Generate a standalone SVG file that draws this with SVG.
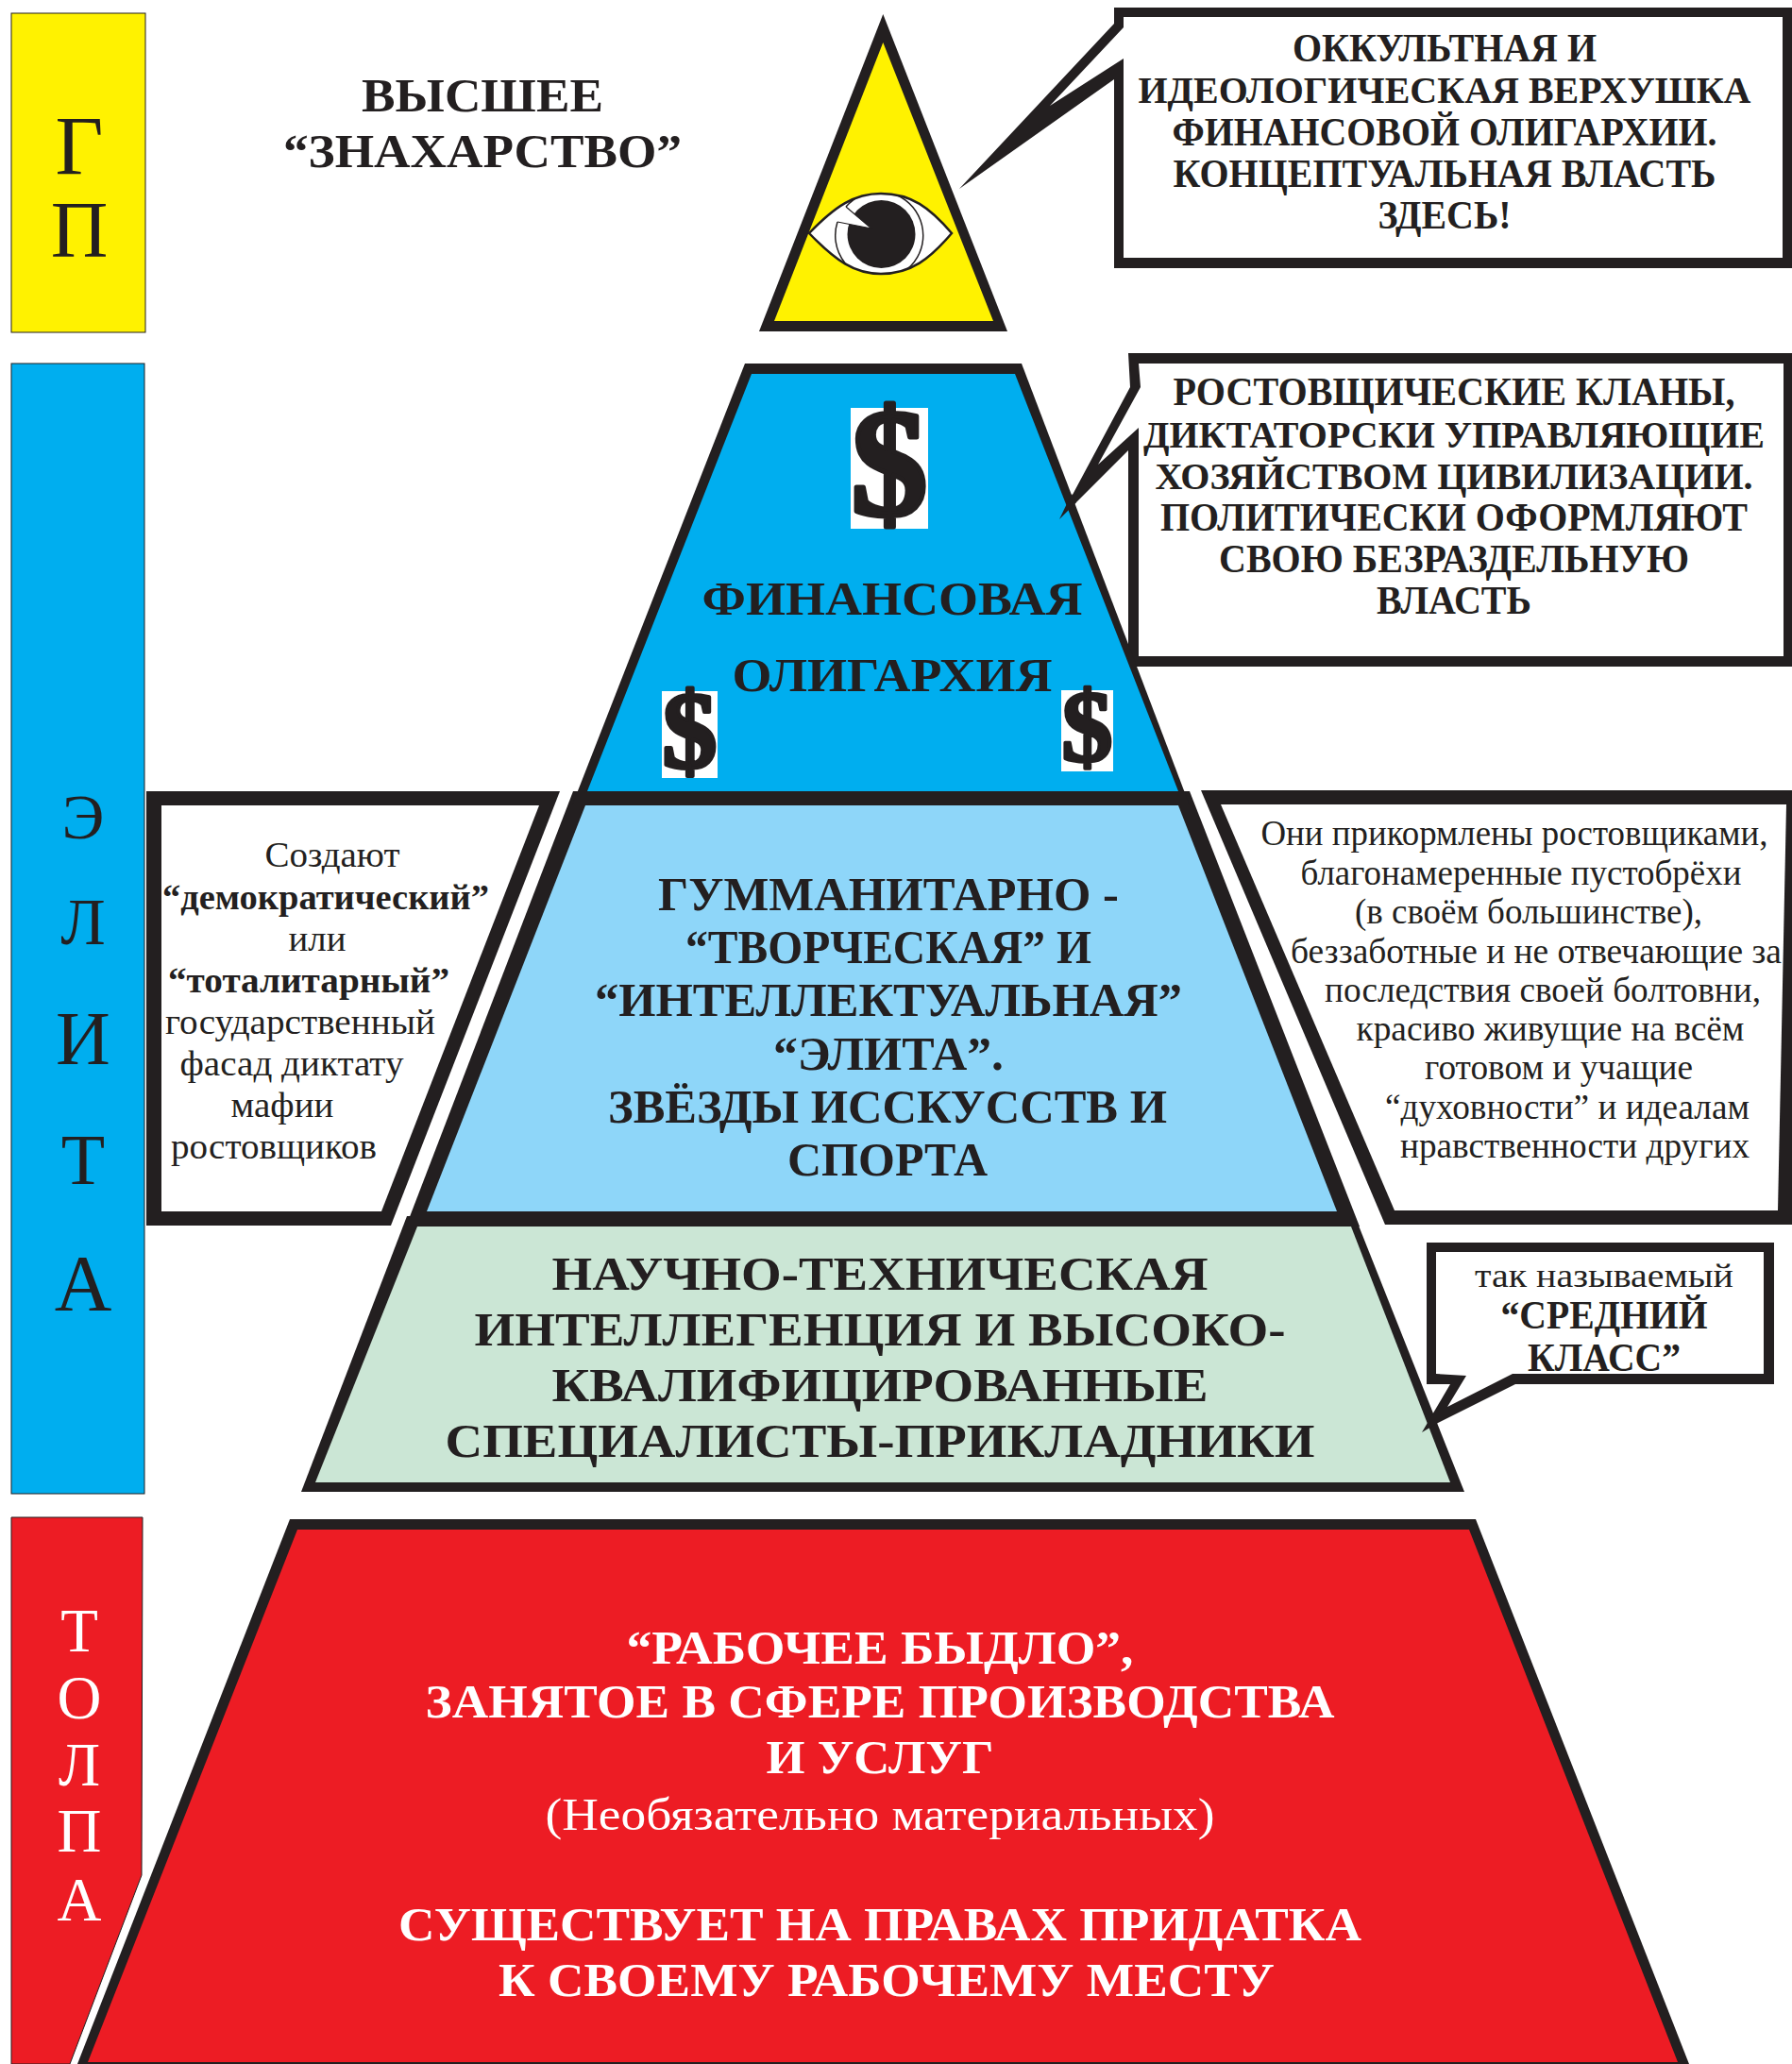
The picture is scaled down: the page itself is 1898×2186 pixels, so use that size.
<svg xmlns="http://www.w3.org/2000/svg" width="1898" height="2186" viewBox="0 0 1898 2186">
<style>
text{font-family:"Liberation Serif","Times New Roman",serif;fill:#231f20;text-anchor:middle}
.b{font-weight:bold}
.w{fill:#fff}
.k{fill:#231f20}
.bar{stroke:#231f20;stroke-width:1}
.s{fill:#fff}
.t41{font-size:41px;font-weight:bold}
.t43{font-size:43px;font-weight:bold}
.t50{font-size:50px;font-weight:bold}
.t38{font-size:38px}
.t37{font-size:37px}
.d{stroke:#231f20;stroke-linejoin:round;font-weight:bold}
</style>
<defs><clipPath id="eye-clip"><path d="M857 247C885 218 905 205 933 205C965 205 985 220 1008 247C985 274 965 290 933 290C905 290 885 276 857 247Z"/></clipPath></defs>
<rect width="1898" height="2186" fill="#fff"/>
<g id="bar-gp">
<rect class="bar" x="12" y="14" width="142" height="338" fill="#fff200"/>
<text x="84" y="184" font-size="88">Г</text>
<text x="84" y="272" font-size="84">П</text>
</g>
<g id="bar-elite">
<rect class="bar" x="12" y="385" width="141" height="1197" fill="#00aeef"/>
<text x="88" y="888" font-size="68">Э</text>
<text x="88" y="1000" font-size="70">Л</text>
<text x="88" y="1127" font-size="80">И</text>
<text x="88" y="1254" font-size="76">Т</text>
<text x="88" y="1388" font-size="84">А</text>
</g>
<g id="bar-crowd">
<path class="bar" d="M12 1607H151L150 1986L74 2186H12Z" fill="#ed1c24"/>
<text class="w" x="84" y="1749" font-size="65">Т</text>
<text class="w" x="84" y="1820" font-size="65">О</text>
<text class="w" x="84" y="1891" font-size="65">Л</text>
<text class="w" x="84" y="1961" font-size="65">П</text>
<text class="w" x="84" y="2034" font-size="65">А</text>
</g>
<g id="title-znaharstvo">
<text class="t50" x="511" y="118" textLength="256" lengthAdjust="spacingAndGlyphs">ВЫСШЕЕ</text>
<text class="t50" x="511" y="177" textLength="422" lengthAdjust="spacingAndGlyphs">“ЗНАХАРСТВО”</text>
</g>
<g id="callout-occult">
<path class="k" d="M1180 8H1898V284H1180V84L1016 200L1180 25Z"/>
<path class="s" d="M1190 18H1888V273H1190V62L1112 112L1190 29Z"/>
<text class="t43" x="1530" y="65" textLength="322" lengthAdjust="spacingAndGlyphs">ОККУЛЬТНАЯ И</text>
<text class="t41" x="1530" y="109" textLength="649" lengthAdjust="spacingAndGlyphs">ИДЕОЛОГИЧЕСКАЯ ВЕРХУШКА</text>
<text class="t43" x="1530" y="154" textLength="577" lengthAdjust="spacingAndGlyphs">ФИНАНСОВОЙ ОЛИГАРХИИ.</text>
<text class="t43" x="1530" y="198" textLength="575" lengthAdjust="spacingAndGlyphs">КОНЦЕПТУАЛЬНАЯ ВЛАСТЬ</text>
<text class="t43" x="1530" y="242" textLength="141" lengthAdjust="spacingAndGlyphs">ЗДЕСЬ!</text>
</g>
<g id="callout-clans">
<path class="k" d="M1195 374H1898V706H1195V477L1122 550L1197 410Z"/>
<path class="s" d="M1206 385H1889V695H1206V453L1163 492L1208 410Z"/>
<text class="t43" x="1540" y="429" textLength="595" lengthAdjust="spacingAndGlyphs">РОСТОВЩИЧЕСКИЕ КЛАНЫ,</text>
<text class="t41" x="1540" y="474" textLength="658" lengthAdjust="spacingAndGlyphs">ДИКТАТОРСКИ УПРАВЛЯЮЩИЕ</text>
<text class="t41" x="1540" y="518" textLength="633" lengthAdjust="spacingAndGlyphs">ХОЗЯЙСТВОМ ЦИВИЛИЗАЦИИ.</text>
<text class="t43" x="1540" y="562" textLength="622" lengthAdjust="spacingAndGlyphs">ПОЛИТИЧЕСКИ ОФОРМЛЯЮТ</text>
<text class="t43" x="1540" y="606" textLength="498" lengthAdjust="spacingAndGlyphs">СВОЮ БЕЗРАЗДЕЛЬНУЮ</text>
<text class="t43" x="1540" y="650" textLength="164" lengthAdjust="spacingAndGlyphs">ВЛАСТЬ</text>
</g>
<g id="callout-facade">
<path class="k" d="M155 838H593L414 1298H155Z"/>
<path class="s" d="M171 853H571L404 1283H171Z"/>
<text class="t38" x="352" y="918" textLength="143" lengthAdjust="spacingAndGlyphs">Создают</text>
<text class="t38 b" x="345" y="963" textLength="346" lengthAdjust="spacingAndGlyphs">“демократический”</text>
<text class="t38" x="336" y="1007" textLength="61" lengthAdjust="spacingAndGlyphs">или</text>
<text class="t38 b" x="327" y="1051" textLength="298" lengthAdjust="spacingAndGlyphs">“тоталитарный”</text>
<text class="t38" x="318" y="1095" textLength="286" lengthAdjust="spacingAndGlyphs">государственный</text>
<text class="t38" x="309" y="1139" textLength="237" lengthAdjust="spacingAndGlyphs">фасад диктату</text>
<text class="t38" x="299" y="1183" textLength="109" lengthAdjust="spacingAndGlyphs">мафии</text>
<text class="t38" x="290" y="1227" textLength="218" lengthAdjust="spacingAndGlyphs">ростовщиков</text>
</g>
<g id="callout-intelligentsia">
<path class="k" d="M1272 837H1898V1297H1467Z"/>
<path class="s" d="M1293 852H1892L1883 1282H1477Z"/>
<text class="t37" x="1604" y="895" textLength="537" lengthAdjust="spacingAndGlyphs">Они прикормлены ростовщиками,</text>
<text class="t37" x="1611" y="937" textLength="467" lengthAdjust="spacingAndGlyphs">благонамеренные пустобрёхи</text>
<text class="t37" x="1619" y="978" textLength="368" lengthAdjust="spacingAndGlyphs">(в своём большинстве),</text>
<text class="t37" x="1627" y="1020" textLength="520" lengthAdjust="spacingAndGlyphs">беззаботные и не отвечающие за</text>
<text class="t37" x="1634" y="1061" textLength="462" lengthAdjust="spacingAndGlyphs">последствия своей болтовни,</text>
<text class="t37" x="1642" y="1102" textLength="411" lengthAdjust="spacingAndGlyphs">красиво живущие на всём</text>
<text class="t37" x="1651" y="1143" textLength="284" lengthAdjust="spacingAndGlyphs">готовом и учащие</text>
<text class="t37" x="1660" y="1185" textLength="386" lengthAdjust="spacingAndGlyphs">“духовности” и идеалам</text>
<text class="t37" x="1668" y="1226" textLength="370" lengthAdjust="spacingAndGlyphs">нравственности других</text>
</g>
<g id="level-crowd">
<path class="k" d="M307 1609H1563L1789 2186H82Z"/>
<path fill="#ed1c24" d="M315 1620H1556L1777 2184H93Z"/>
<text class="t50 w" x="932" y="1762" textLength="537" lengthAdjust="spacingAndGlyphs">“РАБОЧЕЕ БЫДЛО”,</text>
<text class="t50 w" x="932" y="1819" textLength="963" lengthAdjust="spacingAndGlyphs">ЗАНЯТОЕ В СФЕРЕ ПРОИЗВОДСТВА</text>
<text class="t50 w" x="932" y="1878" textLength="241" lengthAdjust="spacingAndGlyphs">И УСЛУГ</text>
<text class="w" font-size="48" x="932" y="1938" textLength="709" lengthAdjust="spacingAndGlyphs">(Необязательно материальных)</text>
<text class="t50 w" x="932" y="2055" textLength="1020" lengthAdjust="spacingAndGlyphs">СУЩЕСТВУЕТ НА ПРАВАХ ПРИДАТКА</text>
<text class="t50 w" x="939" y="2114" textLength="822" lengthAdjust="spacingAndGlyphs">К СВОЕМУ РАБОЧЕМУ МЕСТУ</text>
</g>
<g id="level-technical">
<path class="k" d="M431 1288H1435L1551 1580H319Z"/>
<path fill="#cbe6d5" d="M442 1299H1431L1536 1570H334Z"/>
<text class="t50" x="932" y="1366" textLength="695" lengthAdjust="spacingAndGlyphs">НАУЧНО-ТЕХНИЧЕСКАЯ</text>
<text class="t50" x="932" y="1425" textLength="859" lengthAdjust="spacingAndGlyphs">ИНТЕЛЛЕГЕНЦИЯ И ВЫСОКО-</text>
<text class="t50" x="932" y="1484" textLength="695" lengthAdjust="spacingAndGlyphs">КВАЛИФИЦИРОВАННЫЕ</text>
<text class="t50" x="932" y="1543" textLength="921" lengthAdjust="spacingAndGlyphs">СПЕЦИАЛИСТЫ-ПРИКЛАДНИКИ</text>
</g>
<g id="level-humanities">
<path class="k" d="M607 838H1260L1440 1299H430Z"/>
<path fill="#8ed6f9" d="M620 853H1248L1416 1283H452Z"/>
<text class="t50" x="941" y="964" textLength="488" lengthAdjust="spacingAndGlyphs">ГУММАНИТАРНО -</text>
<text class="t50" x="941" y="1020" textLength="430" lengthAdjust="spacingAndGlyphs">“ТВОРЧЕСКАЯ” И</text>
<text class="t50" x="941" y="1076" textLength="622" lengthAdjust="spacingAndGlyphs">“ИНТЕЛЛЕКТУАЛЬНАЯ”</text>
<text class="t50" x="941" y="1133" textLength="244" lengthAdjust="spacingAndGlyphs">“ЭЛИТА”.</text>
<text class="t50" x="940" y="1189" textLength="592" lengthAdjust="spacingAndGlyphs">ЗВЁЗДЫ ИССКУССТВ И</text>
<text class="t50" x="940" y="1245" textLength="212" lengthAdjust="spacingAndGlyphs">СПОРТА</text>
</g>
<g id="level-oligarchy">
<path class="k" d="M789 385H1082L1260 853H606Z"/>
<path fill="#00aeef" d="M796 396H1075L1248 838H622Z"/>
<text class="t50" x="945" y="651" textLength="403" lengthAdjust="spacingAndGlyphs">ФИНАНСОВАЯ</text>
<text class="t50" x="945" y="732" textLength="339" lengthAdjust="spacingAndGlyphs">ОЛИГАРХИЯ</text>
<rect class="s" x="901" y="432" width="82" height="128"/>
<text class="d" stroke-width="5" font-size="163" x="942" y="545">$</text>
<rect class="s" x="701" y="732" width="59" height="92"/>
<text class="d" stroke-width="4" font-size="117" x="730.5" y="813">$</text>
<rect class="s" x="1124" y="731" width="55" height="86"/>
<text class="d" stroke-width="3.5" font-size="109" x="1151.5" y="806">$</text>
</g>
<g id="level-gp">
<path class="k" d="M935.3 15L1067 351H804Z"/>
<path fill="#fff200" d="M935.3 45L1052 340H820Z"/>
<path fill="#fff" stroke="#231f20" stroke-width="2.5" d="M857 247C885 218 905 205 933 205C965 205 985 220 1008 247C985 274 965 290 933 290C905 290 885 276 857 247Z"/>
<path fill="none" stroke="#231f20" stroke-width="1.5" clip-path="url(#eye-clip)" d="M896 219A46.5 46.5 0 1 1 887 235"/>
<circle class="k" cx="933.5" cy="248" r="36"/>
<path fill="#fff" d="M896 219L923 242L887 235Z"/>
<path fill="none" stroke="#231f20" stroke-width="1.2" d="M896 219L923 242L887 235"/>
</g>
<g id="callout-middle-class">
<path class="k" d="M1511 1316H1879V1466H1605L1523 1507L1506 1517L1536 1466H1511Z"/>
<path class="s" d="M1521 1326H1868V1455H1602L1533 1490L1553 1457L1521 1455Z"/>
<text font-size="36" x="1699" y="1363" textLength="274" lengthAdjust="spacingAndGlyphs">так называемый</text>
<text class="b" font-size="42" x="1699" y="1407" textLength="219" lengthAdjust="spacingAndGlyphs">“СРЕДНИЙ</text>
<text class="b" font-size="42" x="1699" y="1452" textLength="162" lengthAdjust="spacingAndGlyphs">КЛАСС”</text>
</g>
<g id="connectors">
<path class="k" d="M1122 550L1135 523L1140 532Z"/>
</g>
</svg>
